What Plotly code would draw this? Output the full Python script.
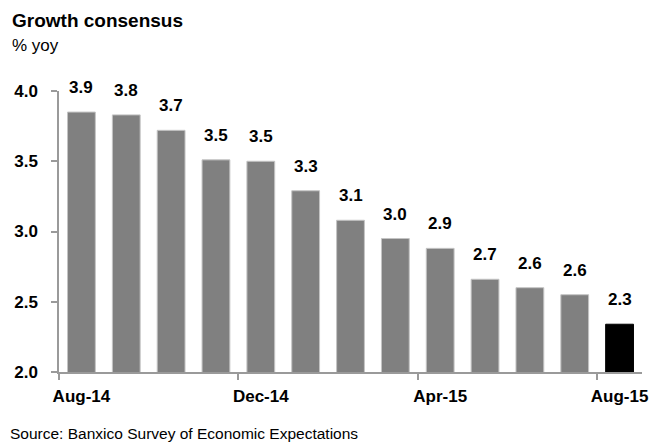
import plotly.graph_objects as go

months = ["Aug-14", "Sep-14", "Oct-14", "Nov-14", "Dec-14", "Jan-15", "Feb-15",
          "Mar-15", "Apr-15", "May-15", "Jun-15", "Jul-15", "Aug-15"]
values = [3.85, 3.83, 3.72, 3.51, 3.50, 3.29, 3.08, 2.95, 2.88, 2.66, 2.60, 2.55, 2.34]
value_labels = ["3.9", "3.8", "3.7", "3.5", "3.5", "3.3", "3.1", "3.0", "2.9", "2.7", "2.6", "2.6", "2.3"]
shown_ticks = ["Aug-14", "Dec-14", "Apr-15", "Aug-15"]
y_ticks = [2.0, 2.5, 3.0, 3.5, 4.0]

# page is 662x446; the html body has an 8px default margin
OFF = 8
W, H = 662 - OFF, 446 - OFF
L, R, T, B = 59 - OFF, 20, 91 - OFF, 74
pw, ph = W - L - R, H - T - B

FONT = "Liberation Sans, Arial, sans-serif"
GREY = "#808080"
AXIS = "#9a9a9a"

idx = list(range(len(months)))
colors = [GREY] * (len(months) - 1) + ["#000000"]
lines = ["#c4c4c4"] * (len(months) - 1) + ["#000000"]

fig = go.Figure()
fig.add_trace(go.Bar(
    x=idx, y=values,
    marker=dict(color=colors, line=dict(color=lines, width=1)),
    width=0.62, showlegend=False, hoverinfo="skip",
))

for i, (v, t) in enumerate(zip(values, value_labels)):
    fig.add_annotation(x=i, y=v, text=f"<b>{t}</b>", showarrow=False,
                       yanchor="bottom", yshift=13,
                       font=dict(family=FONT, size=17, color="#000"))

def px_x(p):  # page pixel -> paper
    return (p - OFF - L) / pw

def px_y(p):
    return (H - B - (p - OFF)) / ph

fig.add_annotation(xref="paper", yref="paper", x=px_x(10), y=px_y(21),
                   text="<b>Growth consensus</b>", showarrow=False,
                   xanchor="left", yanchor="middle",
                   font=dict(family=FONT, size=19, color="#000"))
fig.add_annotation(xref="paper", yref="paper", x=px_x(10), y=px_y(46),
                   text="% yoy", showarrow=False,
                   xanchor="left", yanchor="middle",
                   font=dict(family=FONT, size=17, color="#000"))
fig.add_annotation(xref="paper", yref="paper", x=px_x(8), y=px_y(433),
                   text="Source: Banxico Survey of Economic Expectations", showarrow=False,
                   xanchor="left", yanchor="middle",
                   font=dict(family=FONT, size=15.5, color="#000"))

tick_idx = [months.index(m) for m in shown_ticks]

fig.update_layout(
    width=W, height=H,
    margin=dict(l=L, r=R, t=T, b=B, autoexpand=False),
    paper_bgcolor="white", plot_bgcolor="white",
    font=dict(family=FONT, color="#000"),
    xaxis=dict(
        range=[-0.5, len(months) - 0.5],
        tickmode="array", tickvals=tick_idx, ticktext=[f"<b>{m}</b>" for m in shown_ticks],
        ticks="", showgrid=False, zeroline=False,
        showline=True, linecolor=AXIS, linewidth=1.5,
        tickfont=dict(family=FONT, size=17, color="#000"),
        ticklabelstandoff=8, automargin=False,
        minor=dict(tickmode="linear", tick0=-0.5, dtick=4, ticks="outside",
                   ticklen=6, tickcolor=AXIS, tickwidth=1.5, showgrid=False),
        fixedrange=True,
    ),
    yaxis=dict(
        range=[2.0, 4.0], tickmode="array", tickvals=y_ticks,
        ticktext=[f"<b>{v:.1f}</b>" for v in y_ticks],
        ticks="outside", ticklen=6, tickcolor=AXIS, tickwidth=1.5,
        showgrid=False, zeroline=False,
        showline=True, linecolor=AXIS, linewidth=1.5,
        tickfont=dict(family=FONT, size=17, color="#000"),
        ticklabelstandoff=10, automargin=False,
        fixedrange=True,
    ),
)

fig.write_html("out.html", config={"displayModeBar": False})
